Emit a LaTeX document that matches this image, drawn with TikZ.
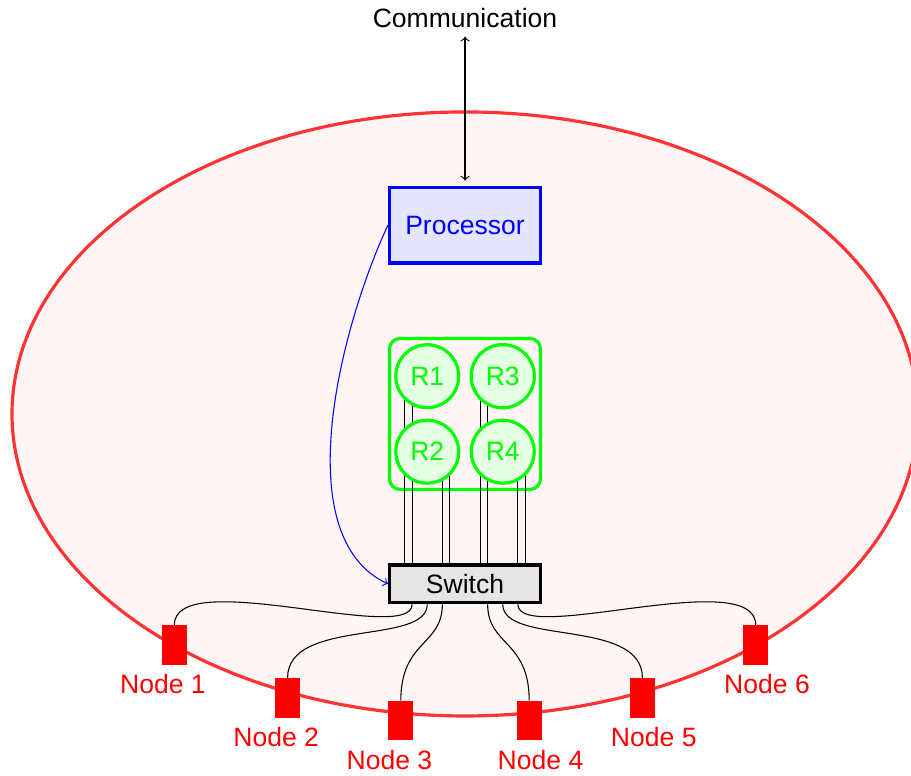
\documentclass[tikz,border=0pt]{standalone}
\usepackage{fontspec}
\setmainfont{Liberation Sans}
\usetikzlibrary{
    calc,
    positioning,
    backgrounds
}

\begin{document}
\begin{tikzpicture}[
        box/.style={draw, very thick, minimum width=2cm},
        reg/.style={circle, draw=green, fill=green!10, very thick, text=green, minimum size=0.8cm},
        pe/.style={draw=red, fill=red, thick, minimum width=0.3cm, minimum height=0.5cm, inner sep=0pt}
    ]
    \useasboundingbox (-6.159,-4.795) rectangle (5.907,5.483);
    \node[box, draw=blue, fill=blue!10, text=blue, minimum height=1cm] (proc) at (0, 2.5) {Processor};
    \node (comm) at (0, 5.25) {Communication};
    \node[box, fill=gray!20, minimum height=0.5cm] (sw) at (0, -2.25) {Switch};
    \node[reg] (r1) at (-0.5, 0.5) {R1};
    \node[reg] (r2) at (-0.5, -0.5) {R2};
    \node[reg] (r3) at (0.5, 0.5) {R3};
    \node[reg] (r4) at (0.5, -0.5) {R4};
    \node[pe, label={[red, xshift=-1.5mm]below:Node 1}] (n1) at (-3.85, -3.06) {};
    \node[pe, label={[red, xshift=-1.5mm]below:Node 2}] (n2) at (-2.35, -3.76) {};
    \node[pe, label={[red, xshift=-1.5mm]below:Node 3}] (n3) at (-0.85, -4.06) {};
    \node[pe, label={[red, xshift=1.5mm]below:Node 4}] (n4) at (0.85, -4.06) {};
    \node[pe, label={[red, xshift=1.5mm]below:Node 5}] (n5) at (2.35, -3.76) {};
    \node[pe, label={[red, xshift=1.5mm]below:Node 6}] (n6) at (3.85, -3.06) {};
    \draw
    (comm) edge[<->, shorten >=2pt] (proc)
    (proc.west) edge[->, blue, out=245, in=155, looseness=0.8] (sw.west);
    \foreach \n/\dx in {1/-7mm, 2/-5mm, 3/-3mm, 4/3mm, 5/5mm, 6/7mm}
        \draw ([xshift=\dx]sw.south) .. controls +(0,-0.55) and +(0,0.8) .. (n\n.north);
    \begin{scope}[on background layer]
        \draw[red!80, very thick, fill=red!4] (0,0) ellipse (6cm and 4cm);
        \node[draw=green, very thick, rounded corners, minimum size=2cm] (regs) at (0,0) {};
        \foreach \r/\dx in {r1/-3mm, r1/-2mm, r2/2mm, r2/3mm, r3/-3mm, r3/-2mm, r4/2mm, r4/3mm}
            \draw ([xshift=\dx]\r.center) -- ([xshift=\dx]\r.center |- sw.north);
    \end{scope}
\end{tikzpicture}
\end{document}
